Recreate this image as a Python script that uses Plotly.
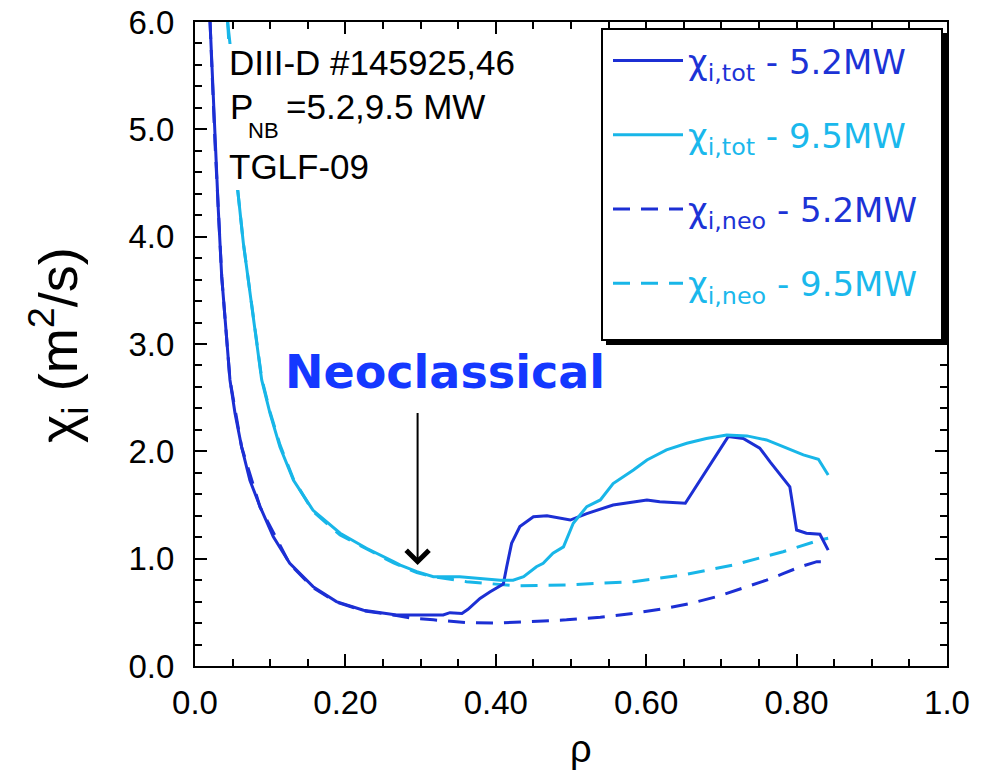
import plotly.graph_objects as go

# ---- data ----
rho_tot_52 = [0.020, 0.023, 0.0266, 0.031, 0.0355, 0.042, 0.0465, 0.0532, 0.062, 0.073, 0.0865,
              0.104, 0.126, 0.157, 0.188, 0.224, 0.268, 0.300, 0.330, 0.339, 0.355, 0.363, 0.379,
              0.392, 0.410, 0.4145, 0.421, 0.432, 0.450, 0.468, 0.499, 0.521, 0.556, 0.601, 0.618,
              0.652, 0.709, 0.729, 0.751, 0.765, 0.791, 0.800, 0.813, 0.831, 0.842]
chi_tot_52 = [6.0, 5.49, 4.87, 4.25, 3.63, 3.01, 2.665, 2.355, 2.04, 1.73, 1.485,
              1.205, 0.957, 0.739, 0.60, 0.52, 0.475, 0.475, 0.475, 0.497, 0.49, 0.528, 0.63,
              0.69, 0.764, 0.925, 1.143, 1.30, 1.39, 1.40, 1.36, 1.42, 1.50, 1.547, 1.53,
              1.516, 2.137, 2.12, 2.03, 1.90, 1.67, 1.267, 1.237, 1.227, 1.08]

rho_tot_95 = [0.0434, 0.0465, 0.050, 0.0567, 0.0643, 0.073, 0.082, 0.0887, 0.0997, 0.113, 0.131,
              0.157, 0.193, 0.228, 0.264, 0.273, 0.295, 0.317, 0.352, 0.379, 0.406, 0.423, 0.437,
              0.454, 0.463, 0.476, 0.490, 0.503, 0.521, 0.539, 0.556, 0.583, 0.601, 0.627, 0.654,
              0.680, 0.707, 0.734, 0.760, 0.787, 0.809, 0.829, 0.842]
chi_tot_95 = [6.0, 5.80, 5.2, 4.44, 3.94, 3.48, 3.01, 2.665, 2.355, 2.04, 1.73,
              1.45, 1.237, 1.097, 0.972, 0.94, 0.879, 0.832, 0.832, 0.817, 0.80, 0.80, 0.832,
              0.925, 0.957, 1.05, 1.11, 1.33, 1.485, 1.547, 1.70, 1.827, 1.92, 2.013, 2.075,
              2.12, 2.153, 2.144, 2.106, 2.03, 1.967, 1.926, 1.78]

rho_neo_52 = [0.020, 0.0266, 0.0355, 0.0465, 0.062, 0.0865, 0.126, 0.157, 0.188, 0.224, 0.268,
              0.290, 0.317, 0.361, 0.400, 0.450, 0.494, 0.539, 0.583, 0.627, 0.660, 0.694, 0.727,
              0.760, 0.782, 0.805, 0.827, 0.842]
chi_neo_52 = [6.0, 4.87, 3.63, 2.665, 2.04, 1.48, 0.95, 0.73, 0.595, 0.515, 0.47,
              0.444, 0.43, 0.404, 0.40, 0.413, 0.43, 0.454, 0.49, 0.538, 0.585, 0.646, 0.72,
              0.80, 0.86, 0.925, 0.972, 0.972]

rho_neo_95 = [0.0434, 0.0567, 0.0643, 0.073, 0.082, 0.0887, 0.0997, 0.113, 0.131, 0.157, 0.193,
              0.228, 0.264, 0.295, 0.317, 0.361, 0.400, 0.428, 0.494, 0.540, 0.583, 0.649, 0.716,
              0.782, 0.831, 0.842]
chi_neo_95 = [6.0, 4.44, 3.94, 3.48, 3.01, 2.68, 2.37, 2.06, 1.74, 1.44, 1.22,
              1.09, 0.96, 0.87, 0.832, 0.786, 0.76, 0.746, 0.755, 0.77, 0.786, 0.848, 0.941,
              1.065, 1.174, 1.19]

x_tickvals = [0.0, 0.2, 0.4, 0.6, 0.8, 1.0]
x_ticktext = ["0.0", "0.20", "0.40", "0.60", "0.80", "1.0"]
y_tickvals = [0, 1, 2, 3, 4, 5, 6]
y_ticktext = ["0.0", "1.0", "2.0", "3.0", "4.0", "5.0", "6.0"]

DARK = "#1c2fd4"
LIGHT = "#18b6e8"
DARK_TXT = "#1c33d6"
LIGHT_TXT = "#1ab8ec"

fig = go.Figure()

def name(label, sub, color):
    return f'<span style="color:{color}">χ<sub>{sub}</sub> - {label}</span>'

# dashed (neoclassical) first so solid curves are drawn on top
fig.add_trace(go.Scatter(x=rho_neo_52, y=chi_neo_52, mode="lines",
                         line=dict(color=DARK, width=3, dash="17px,11px"),
                         legendgroup="c", legendrank=3,
                         name=name("5.2MW", "i,neo", DARK_TXT)))
fig.add_trace(go.Scatter(x=rho_neo_95, y=chi_neo_95, mode="lines",
                         line=dict(color=LIGHT, width=3, dash="17px,11px"),
                         legendgroup="d", legendrank=4,
                         name=name("9.5MW", "i,neo", LIGHT_TXT)))
fig.add_trace(go.Scatter(x=rho_tot_52, y=chi_tot_52, mode="lines",
                         line=dict(color=DARK, width=3),
                         legendgroup="a", legendrank=1,
                         name=name("5.2MW", "i,tot", DARK_TXT)))
fig.add_trace(go.Scatter(x=rho_tot_95, y=chi_tot_95, mode="lines",
                         line=dict(color=LIGHT, width=3),
                         legendgroup="b", legendrank=2,
                         name=name("9.5MW", "i,tot", LIGHT_TXT)))

axis_common = dict(
    showline=True, linecolor="black", linewidth=2, mirror="ticks",
    ticks="inside", ticklen=12, tickwidth=2, tickcolor="black",
    showgrid=False, zeroline=False, automargin=False,
    tickfont=dict(family="Liberation Sans", size=33, color="black"),
)

fig.update_xaxes(range=[0, 1], tickvals=x_tickvals, ticktext=x_ticktext,
                 minor=dict(dtick=0.05, ticks="inside", ticklen=7, tickwidth=2, tickcolor="black"),
                 ticklabelstandoff=6, **axis_common)
fig.update_yaxes(range=[0, 6], tickvals=y_tickvals, ticktext=y_ticktext,
                 minor=dict(dtick=0.2, ticks="inside", ticklen=7, tickwidth=2, tickcolor="black"),
                 ticklabelstandoff=12, **axis_common)

def px2paper(px, py):
    return (px - 195) / 752, (666 - py) / 644

TXT_FONT = dict(family="Liberation Sans", size=35, color="black")

# white background behind the text block (hides the curve there, as in the reference)
wx0, wy0 = px2paper(224, 190)
wx1, wy1 = px2paper(525, 44)
fig.add_shape(type="rect", xref="paper", yref="paper", x0=wx0, x1=wx1, y0=wy0, y1=wy1,
              fillcolor="white", line=dict(width=0), layer="above")

x, y = px2paper(227, 63)
fig.add_annotation(text="DIII-D #145925,46", xref="paper", yref="paper", x=x, y=y,
                   xanchor="left", yanchor="middle", showarrow=False, font=TXT_FONT)
x, y = px2paper(228, 106)
fig.add_annotation(text="P", xref="paper", yref="paper", x=x, y=y,
                   xanchor="left", yanchor="middle", showarrow=False, font=TXT_FONT)
x, y = px2paper(284, 106)
fig.add_annotation(text="=5.2,9.5 MW", xref="paper", yref="paper", x=x, y=y,
                   xanchor="left", yanchor="middle", showarrow=False, font=TXT_FONT)
x, y = px2paper(227, 167)
fig.add_annotation(text="TGLF-09", xref="paper", yref="paper", x=x, y=y,
                   xanchor="left", yanchor="middle", showarrow=False, font=TXT_FONT)
x, y = px2paper(246, 131)
fig.add_annotation(text="NB", xref="paper", yref="paper", x=x, y=y,
                   xanchor="left", yanchor="middle", showarrow=False,
                   font=dict(family="Liberation Sans", size=22, color="black"))

# Neoclassical label and arrow
fig.add_annotation(text="<b>Neoclassical</b>", x=0.332, y=2.74, xref="x", yref="y",
                   showarrow=False, xanchor="center", yanchor="middle",
                   font=dict(family="DejaVu Sans", size=46, color="#1438ff"))
fig.add_annotation(text="", x=0.296, y=0.94, ax=0.296, ay=2.37, xref="x", yref="y",
                   axref="x", ayref="y", showarrow=True, arrowhead=4, arrowsize=2.2,
                   arrowwidth=2, arrowcolor="black")

# axis titles
x, y = px2paper(58, 345)
fig.add_annotation(text="χ<sub>i</sub> (m<sup>2</sup>/s)", xref="paper", yref="paper",
                   x=x, y=y, textangle=-90, showarrow=False,
                   xanchor="center", yanchor="middle",
                   font=dict(family="Liberation Sans", size=54, color="black"))
x, y = px2paper(581, 749)
fig.add_annotation(text="ρ", xref="paper", yref="paper", x=x, y=y,
                   showarrow=False, xanchor="center", yanchor="middle",
                   font=dict(family="Liberation Sans", size=38, color="black"))

# legend frame with drop shadow
sx0, sy0 = px2paper(606, 345)
sx1, sy1 = px2paper(947, 33)
fig.add_shape(type="rect", xref="paper", yref="paper", x0=sx0, x1=sx1, y0=sy0, y1=sy1,
              fillcolor="black", line=dict(width=0), layer="above")
bx0, by0 = px2paper(602, 340)
bx1, by1 = px2paper(942, 29)
fig.add_shape(type="rect", xref="paper", yref="paper", x0=bx0, x1=bx1, y0=by0, y1=by1,
              fillcolor="white", line=dict(color="black", width=2), layer="above")

lx, ly = px2paper(608, 32)
fig.update_layout(
    width=990, height=777,
    margin=dict(l=195, r=43, t=22, b=111),
    paper_bgcolor="white", plot_bgcolor="white",
    showlegend=True,
    legend=dict(x=lx, y=ly, xanchor="left", yanchor="top",
                bgcolor="rgba(0,0,0,0)", borderwidth=0,
                font=dict(family="DejaVu Sans", size=34),
                tracegroupgap=27, itemwidth=70, traceorder="grouped"),
)

fig.write_html("out.html", config={"displayModeBar": False},
               post_script="document.body.style.margin='0px';")
